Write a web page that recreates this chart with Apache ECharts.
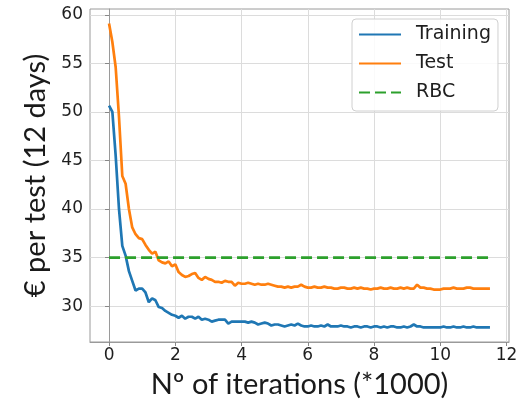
<!DOCTYPE html>
<html>
<head>
<meta charset="utf-8">
<script src="https://cdn.jsdelivr.net/npm/echarts@6/dist/echarts.min.js"></script>
<style>html,body{margin:0;padding:0;background:#fff}#c{width:532px;height:404px}</style>
</head>
<body>
<div id="c"></div>
<script>
// iterations (*1000)
const iterations = [
0.0,0.1,0.2,0.3,0.4,0.5,0.6,0.7,0.8,0.9,1.0,1.1,1.2,1.3,1.4,1.5,1.6,1.7,1.8,1.9,
2.0,2.1,2.2,2.3,2.4,2.5,2.6,2.7,2.8,2.9,3.0,3.1,3.2,3.3,3.4,3.5,3.6,3.7,3.8,3.9,
4.0,4.1,4.2,4.3,4.4,4.5,4.6,4.7,4.8,4.9,5.0,5.1,5.2,5.3,5.4,5.5,5.6,5.7,5.8,5.9,
6.0,6.1,6.2,6.3,6.4,6.5,6.6,6.7,6.8,6.9,7.0,7.1,7.2,7.3,7.4,7.5,7.6,7.7,7.8,7.9,
8.0,8.1,8.2,8.3,8.4,8.5,8.6,8.7,8.8,8.9,9.0,9.1,9.2,9.3,9.4,9.5,9.6,9.7,9.8,9.9,
10.0,10.1,10.2,10.3,10.4,10.5,10.6,10.7,10.8,10.9,11.0,11.1,11.2,11.3,11.4,11.5
];
const training = [
50.65,50.0,45.5,40.0,36.2,35.2,33.6,32.6,31.6,31.8,31.8,31.4,30.4,30.8,30.6,29.9,29.8,29.5,29.3,29.1,
29.0,28.8,29.0,28.7,28.9,28.9,28.7,28.9,28.6,28.7,28.6,28.4,28.5,28.6,28.6,28.6,28.2,28.4,28.4,28.4,
28.4,28.4,28.3,28.4,28.3,28.1,28.2,28.3,28.2,28.0,28.1,28.1,28.0,27.9,28.0,28.1,28.0,28.2,28.0,27.9,
27.9,28.0,27.9,27.9,28.0,27.9,28.1,27.9,27.9,27.9,28.0,27.9,27.9,27.8,27.9,27.9,27.8,27.9,27.9,27.8,
27.9,27.9,27.8,27.9,27.8,27.9,27.9,27.8,27.8,27.9,27.8,27.9,28.1,27.9,27.9,27.8,27.8,27.8,27.8,27.8,
27.8,27.9,27.8,27.8,27.9,27.8,27.8,27.9,27.8,27.8,27.9,27.8,27.8,27.8,27.8,27.8
];
const test = [
59.1,57.2,54.6,49.5,43.4,42.6,40.0,38.1,37.4,37.0,36.9,36.3,35.8,35.4,35.6,34.7,34.5,34.4,34.6,34.1,
34.3,33.5,33.2,33.0,33.1,33.3,33.4,32.9,32.7,33.0,32.8,32.7,32.5,32.5,32.4,32.6,32.5,32.5,32.1,32.4,
32.3,32.3,32.4,32.3,32.2,32.3,32.2,32.2,32.3,32.2,32.1,32.0,32.0,31.9,32.0,31.9,32.0,32.0,32.2,32.0,
31.9,31.9,32.0,31.9,31.9,32.0,31.9,31.9,31.8,31.8,31.9,31.9,31.8,31.8,31.9,31.8,31.9,31.8,31.8,31.7,
31.8,31.8,31.9,31.8,31.8,31.9,31.8,31.8,31.9,31.8,31.9,31.8,31.8,32.2,31.9,31.9,31.8,31.8,31.7,31.7,
31.7,31.8,31.8,31.8,31.9,31.8,31.8,31.8,31.9,31.9,31.8,31.8,31.8,31.8,31.8,31.8
];
const rbcX = [0.0, 11.5];
const rbcY = [35, 35];
const xTicks = [0, 2, 4, 6, 8, 10, 12];
const yTicks = [30, 35, 40, 45, 50, 55, 60];
const seriesNames = ['Training', 'Test', 'RBC'];

const chart = echarts.init(document.getElementById('c'), null, {renderer: 'canvas'});
const pair = (xs, ys) => xs.map((x, i) => [x, ys[i]]);
const spine = '#9a9a9a';
const gridC = '#dcdcdc';
const tickFont = {fontFamily: 'DejaVu Sans', fontSize: 17, color: '#1e1e1e'};
chart.setOption({
  animation: false,
  backgroundColor: '#fff',
  grid: {left: 90, top: 9, width: 419, height: 333, show: true, borderColor: spine, borderWidth: 1, containLabel: false},
  xAxis: {
    type: 'value', min: -0.575, max: 12.075,
    name: 'Nº of iterations (*1000)', nameLocation: 'middle', nameGap: 28,
    nameTextStyle: {fontFamily: 'Lato', fontSize: 29, color: '#1a1a1a'},
    axisLine: {show: true, lineStyle: {color: spine, width: 1}},
    axisTick: {show: true, inside: false, length: 4, lineStyle: {color: '#888'}, customValues: xTicks},
    axisLabel: Object.assign({margin: 5, customValues: xTicks, showMinLabel: true, showMaxLabel: true}, tickFont),
    splitLine: {show: true, lineStyle: {color: gridC, width: 1}}
  },
  yAxis: {
    type: 'value', min: 26.3, max: 60.6,
    name: '€ per test (12 days)', nameLocation: 'middle', nameGap: 38, nameRotate: 90,
    nameTextStyle: {fontFamily: 'Lato', fontSize: 29, color: '#1a1a1a'},
    axisLine: {show: true, lineStyle: {color: spine, width: 1}},
    axisTick: {show: true, inside: false, length: 4, lineStyle: {color: '#888'}, customValues: yTicks},
    axisLabel: Object.assign({margin: 7, customValues: yTicks}, tickFont),
    splitLine: {show: true, lineStyle: {color: gridC, width: 1}}
  },
  legend: {
    orient: 'vertical', left: 352, top: 19,
    padding: [6, 7, 9, 6], itemGap: 10, itemWidth: 42, itemHeight: 14,
    borderColor: '#d0d0d0', borderWidth: 1, borderRadius: 4, backgroundColor: 'rgba(255,255,255,0.85)',
    itemStyle: {opacity: 0},
    textStyle: {fontFamily: 'DejaVu Sans', fontSize: 19, color: '#1e1e1e', padding: [0, 0, 0, 10]},
    data: seriesNames
  },
  series: [
    {name: seriesNames[0], type: 'line', data: pair(iterations, training), showSymbol: false, symbol: 'none',
     lineStyle: {color: '#1f77b4', width: 2.7}, itemStyle: {color: '#1f77b4'}, z: 3},
    {name: seriesNames[1], type: 'line', data: pair(iterations, test), showSymbol: false, symbol: 'none',
     lineStyle: {color: '#ff7f0e', width: 2.7}, itemStyle: {color: '#ff7f0e'}, z: 4},
    {name: seriesNames[2], type: 'line', data: pair(rbcX, rbcY), showSymbol: false, symbol: 'none',
     lineStyle: {color: '#2ca02c', width: 2.8, type: [11, 5]}, itemStyle: {color: '#2ca02c'}, z: 5}
  ]
});
</script>
</body>
</html>
